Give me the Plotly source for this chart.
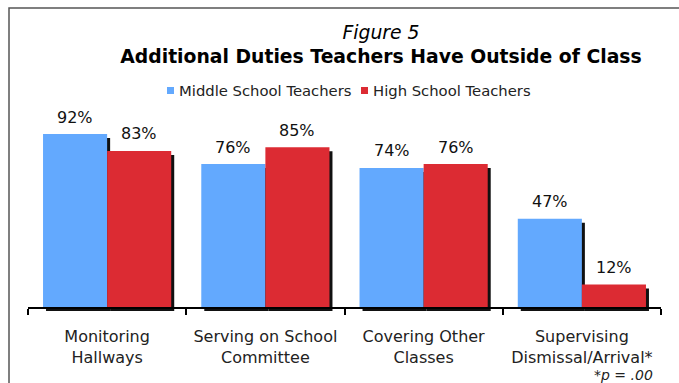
import plotly.graph_objects as go

# Survey data: share of teachers reporting each additional duty
categories = ["Monitoring<br>Hallways", "Serving on School<br>Committee",
              "Covering Other<br>Classes", "Supervising<br>Dismissal/Arrival*"]
middle_school = [92, 76, 74, 47]
high_school = [83, 85, 76, 12]
series_names = ["Middle School Teachers", "High School Teachers"]

W, H = 679, 383
BLUE, RED, SHADOW = "#63A9FE", "#DC2B33", "#111111"
FONT = "Verdana, DejaVu Sans, sans-serif"

# plot-area pixel box, and the drop-shadow offset
px_left, px_right, px_top, px_bottom = 28, 661, 119, 307
dx, dy = 3, 4

def xdom(a, b):
    return [a / W, b / W]

def ydom(top, bottom):
    return [(H - bottom) / H, (H - top) / H]

fig = go.Figure()

# shadow copies of the bars on a slightly shifted subplot (drawn underneath)
for vals in (middle_school, high_school):
    fig.add_trace(go.Bar(x=categories, y=vals, marker=dict(color=SHADOW, line_width=0),
                         xaxis="x", yaxis="y", showlegend=False, hoverinfo="skip"))

# the main bars
for name, vals, col in zip(series_names, (middle_school, high_school), (BLUE, RED)):
    fig.add_trace(go.Bar(x=categories, y=vals, name=name, showlegend=False,
                         marker=dict(color=col, line_width=0),
                         xaxis="x2", yaxis="y2"))

bargap = 0.19
half = (1 - bargap) / 4

annotations = []
for i in range(len(categories)):
    for vals, off in ((middle_school, -half), (high_school, half)):
        annotations.append(dict(x=i + off, y=vals[i], xref="x2", yref="y2",
                                text=f"{vals[i]}%", showarrow=False,
                                yanchor="middle", yshift=17,
                                font=dict(family=FONT, size=16, color="#111")))

annotations.append(dict(x=655 / W, y=1 - 375 / H, xref="paper", yref="paper",
                        text="<i>*p = .00</i>", showarrow=False,
                        xanchor="right", yanchor="middle",
                        font=dict(family=FONT, size=14, color="#222")))

# compact legend row: small colour square followed by the series name
shapes = [dict(type="rect", xref="paper", yref="paper",
               x0=9 / W, x1=1.05, y0=-0.05, y1=1 - 8 / H,
               line=dict(color="#555", width=1.5), layer="below")]
legend_y = 1 - 90.5 / H
for name, col, sq_x in zip(series_names, (BLUE, RED), (167, 361)):
    shapes.append(dict(type="rect", xref="paper", yref="paper",
                       x0=sq_x / W, x1=(sq_x + 7) / W,
                       y0=legend_y - 3.5 / H, y1=legend_y + 3.5 / H,
                       fillcolor=col, line_width=0))
    annotations.append(dict(x=(sq_x + 10) / W, y=legend_y, xref="paper", yref="paper",
                            text=name, showarrow=False, xanchor="left", yanchor="middle",
                            font=dict(family=FONT, size=14.8, color="#222")))

axis_hidden = dict(visible=False, fixedrange=True)
fig.update_layout(
    width=W, height=H, autosize=False,
    margin=dict(l=0, r=0, t=0, b=0),
    paper_bgcolor="white", plot_bgcolor="rgba(0,0,0,0)",
    barmode="group", bargap=bargap, bargroupgap=0,
    showlegend=False,
    xaxis=dict(domain=xdom(px_left + dx, px_right + dx), **axis_hidden),
    yaxis=dict(domain=ydom(px_top + dy, px_bottom + dy), range=[0, 100], **axis_hidden),
    xaxis2=dict(domain=xdom(px_left, px_right), anchor="y2",
                showline=True, linecolor="black", linewidth=2,
                ticks="outside", tickson="boundaries", ticklen=6,
                tickcolor="black", tickwidth=1.5, showgrid=False,
                ticklabelstandoff=14,
                tickfont=dict(family=FONT, size=16, color="#222")),
    yaxis2=dict(domain=ydom(px_top, px_bottom), anchor="x2", range=[0, 100],
                visible=False),
    title=dict(text="<i>Figure 5</i><br><b>Additional Duties Teachers Have Outside of Class</b>",
               x=381 / W, xanchor="center", y=1 - 39 / H, yanchor="top",
               yref="container", xref="container",
               font=dict(family=FONT, size=18.8, color="black")),
    annotations=annotations,
    shapes=shapes,
)

fig.write_html("out.html")
